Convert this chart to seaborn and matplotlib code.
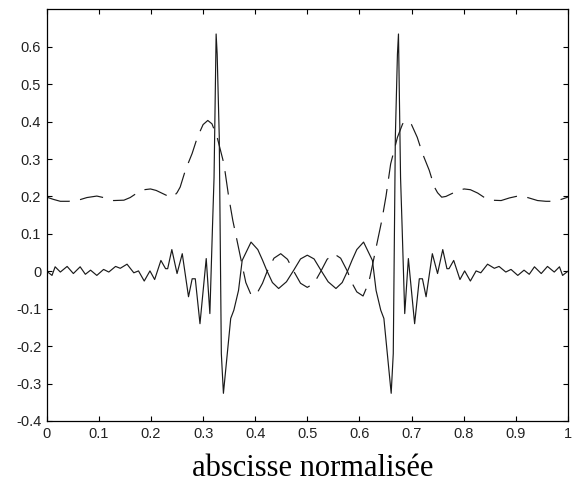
import matplotlib
matplotlib.use("Agg")
import matplotlib.pyplot as plt
import seaborn as sns
import pandas as pd

# ---- data ----
solid_x = [0.000, 0.010, 0.016, 0.026, 0.039, 0.051, 0.064, 0.074, 0.084, 0.096,
           0.109, 0.119, 0.132, 0.141, 0.154, 0.167, 0.176, 0.187, 0.198, 0.207,
           0.219, 0.228, 0.232, 0.240, 0.250, 0.260, 0.272, 0.279, 0.285, 0.294,
           0.306, 0.313, 0.318, 0.321, 0.325, 0.327, 0.331, 0.335, 0.339, 0.353,
           0.359, 0.368, 0.375, 0.392, 0.405, 0.414, 0.422, 0.433, 0.445, 0.460,
           0.474, 0.487, 0.500,
           0.513, 0.526, 0.540, 0.555, 0.567, 0.578, 0.586, 0.595, 0.608, 0.625,
           0.632, 0.641, 0.647, 0.661, 0.665, 0.669, 0.673, 0.675, 0.679, 0.682,
           0.687, 0.694, 0.706, 0.715, 0.721, 0.728, 0.740, 0.750, 0.760, 0.768,
           0.772, 0.781, 0.793, 0.802, 0.813, 0.824, 0.833, 0.846, 0.859, 0.868,
           0.881, 0.891, 0.904, 0.916, 0.926, 0.936, 0.949, 0.961, 0.974, 0.984,
           0.990, 1.000]
solid_y = [0.000, -0.011, 0.012, -0.002, 0.013, -0.006, 0.012, -0.008, 0.003, -0.011,
           0.005, -0.002, 0.013, 0.008, 0.019, -0.004, 0.001, -0.026, 0.001, -0.022,
           0.029, 0.007, 0.007, 0.058, -0.006, 0.047, -0.068, -0.020, -0.020, -0.140,
           0.034, -0.113, 0.118, 0.250, 0.634, 0.580, 0.360, -0.220, -0.326, -0.126,
           -0.104, -0.051, 0.029, 0.078, 0.058, 0.030, 0.003, -0.030, -0.046, -0.028,
           0.003, 0.033, 0.043,
           0.033, 0.003, -0.028, -0.046, -0.030, 0.003, 0.030, 0.058, 0.078, 0.029,
           -0.051, -0.104, -0.126, -0.326, -0.220, 0.360, 0.580, 0.634, 0.250, 0.118,
           -0.113, 0.034, -0.140, -0.020, -0.020, -0.068, 0.047, -0.006, 0.058, 0.007,
           0.007, 0.029, -0.022, 0.001, -0.026, 0.001, -0.004, 0.019, 0.008, 0.013,
           -0.002, 0.005, -0.011, 0.003, -0.008, 0.012, -0.006, 0.013, -0.002, 0.012,
           -0.011, 0.000]

dashed_x = [0.000, 0.013, 0.026, 0.042, 0.058, 0.077, 0.096, 0.112, 0.128, 0.148,
            0.160, 0.173, 0.187, 0.199, 0.210, 0.222, 0.234, 0.242, 0.250, 0.256,
            0.266, 0.279, 0.289, 0.300, 0.309, 0.317, 0.327, 0.340, 0.349, 0.357,
            0.365, 0.375, 0.382, 0.393, 0.405, 0.414, 0.423, 0.436, 0.449, 0.462,
            0.474, 0.487, 0.500,
            0.513, 0.526, 0.538, 0.551, 0.564, 0.577, 0.586, 0.595, 0.607, 0.618,
            0.625, 0.635, 0.643, 0.651, 0.660, 0.673, 0.683, 0.691, 0.700, 0.711,
            0.721, 0.734, 0.744, 0.750, 0.758, 0.766, 0.778, 0.790, 0.801, 0.813,
            0.827, 0.840, 0.852, 0.872, 0.888, 0.904, 0.923, 0.942, 0.958, 0.974,
            0.987, 1.000]
dashed_y = [0.198, 0.192, 0.187, 0.187, 0.189, 0.197, 0.201, 0.196, 0.189, 0.190,
            0.197, 0.209, 0.218, 0.220, 0.216, 0.208, 0.200, 0.198, 0.210, 0.225,
            0.270, 0.315, 0.358, 0.392, 0.403, 0.394, 0.358, 0.287, 0.200, 0.136,
            0.083, 0.016, -0.030, -0.066, -0.055, -0.032, 0.000, 0.035, 0.047, 0.032,
            0.000, -0.032, -0.043,
            -0.032, 0.000, 0.032, 0.047, 0.035, 0.000, -0.032, -0.055, -0.066, -0.030,
            0.016, 0.083, 0.136, 0.200, 0.287, 0.358, 0.394, 0.403, 0.392, 0.358,
            0.315, 0.270, 0.225, 0.210, 0.198, 0.200, 0.208, 0.216, 0.220, 0.218,
            0.209, 0.197, 0.190, 0.189, 0.196, 0.201, 0.197, 0.189, 0.187, 0.187,
            0.192, 0.198]

x_ticks = [0, 0.1, 0.2, 0.3, 0.4, 0.5, 0.6, 0.7, 0.8, 0.9, 1]
x_ticklabels = ["0", "0.1", "0.2", "0.3", "0.4", "0.5", "0.6", "0.7", "0.8", "0.9", "1"]
y_ticks = [-0.4, -0.3, -0.2, -0.1, 0, 0.1, 0.2, 0.3, 0.4, 0.5, 0.6]
y_ticklabels = ["-0.4", "-0.3", "-0.2", "-0.1", "0", "0.1", "0.2", "0.3", "0.4", "0.5", "0.6"]
x_label = "abscisse normalisée"

# ---- style ----
sns.set_theme(style="ticks")
plt.rcParams["font.family"] = ["Liberation Sans", "DejaVu Sans"]
plt.rcParams["lines.scale_dashes"] = False
plt.rcParams["axes.unicode_minus"] = False

fig = plt.figure(figsize=(5.73, 4.84), dpi=100)
fig.patch.set_facecolor("white")
ax = fig.add_axes([46.8 / 573, 63 / 484, 521 / 573, 411.7 / 484])

df_s = pd.DataFrame({"x": solid_x, "y": solid_y})
df_d = pd.DataFrame({"x": dashed_x, "y": dashed_y})

sns.lineplot(data=df_d, x="x", y="y", ax=ax, color="#1a1a1a", lw=0.85,
             estimator=None, sort=False, linestyle=(0, (17, 7.5)))
sns.lineplot(data=df_s, x="x", y="y", ax=ax, color="#1a1a1a", lw=0.85,
             estimator=None, sort=False)

ax.set_xlim(0, 1)
ax.set_ylim(-0.4, 0.7)
ax.set_xticks(x_ticks)
ax.set_xticklabels(x_ticklabels)
ax.set_yticks(y_ticks)
ax.set_yticklabels(y_ticklabels)
ax.set_xlabel("")
ax.set_ylabel("")

for s in ax.spines.values():
    s.set_visible(True)
    s.set_color("black")
    s.set_linewidth(0.9)

ax.tick_params(direction="in", length=3.8, width=0.8, top=True, right=True,
               labelsize=10.5, labelcolor="#222222", color="black", pad=4)

fig.text(312.5 / 573, 8 / 484, x_label, ha="center", va="baseline",
         family=["Liberation Serif", "DejaVu Serif"], fontsize=22, color="black")

fig.savefig("out.png", dpi=100, facecolor="white")
